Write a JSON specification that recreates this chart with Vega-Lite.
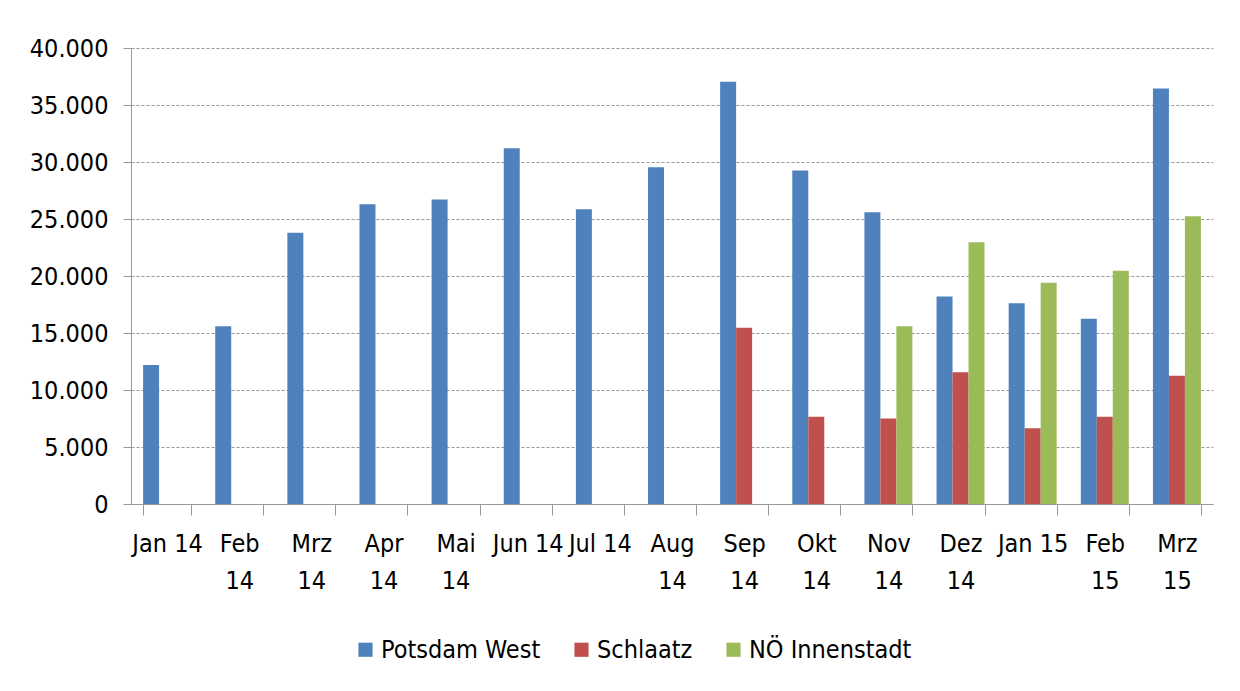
{
  "$schema": "https://vega.github.io/schema/vega-lite/v6.json",
  "width": 1082,
  "height": 456,
  "autosize": {"type": "none"},
  "padding": {"left": 131, "top": 48, "right": 27, "bottom": 187},
  "background": "white",
  "config": {"view": {"stroke": null}},
  "data": {
    "values": [
      {"monat": "Jan 14", "serie": "Potsdam West", "wert": 12200},
      {"monat": "Feb 14", "serie": "Potsdam West", "wert": 15600},
      {"monat": "Mrz 14", "serie": "Potsdam West", "wert": 23800},
      {"monat": "Apr 14", "serie": "Potsdam West", "wert": 26300},
      {"monat": "Mai 14", "serie": "Potsdam West", "wert": 26700},
      {"monat": "Jun 14", "serie": "Potsdam West", "wert": 31200},
      {"monat": "Jul 14", "serie": "Potsdam West", "wert": 25850},
      {"monat": "Aug 14", "serie": "Potsdam West", "wert": 29550},
      {"monat": "Sep 14", "serie": "Potsdam West", "wert": 37050},
      {"monat": "Sep 14", "serie": "Schlaatz", "wert": 15450},
      {"monat": "Okt 14", "serie": "Potsdam West", "wert": 29250},
      {"monat": "Okt 14", "serie": "Schlaatz", "wert": 7650},
      {"monat": "Nov 14", "serie": "Potsdam West", "wert": 25600},
      {"monat": "Nov 14", "serie": "Schlaatz", "wert": 7500},
      {"monat": "Nov 14", "serie": "NÖ Innenstadt", "wert": 15600},
      {"monat": "Dez 14", "serie": "Potsdam West", "wert": 18200},
      {"monat": "Dez 14", "serie": "Schlaatz", "wert": 11550},
      {"monat": "Dez 14", "serie": "NÖ Innenstadt", "wert": 22950},
      {"monat": "Jan 15", "serie": "Potsdam West", "wert": 17600},
      {"monat": "Jan 15", "serie": "Schlaatz", "wert": 6650},
      {"monat": "Jan 15", "serie": "NÖ Innenstadt", "wert": 19400},
      {"monat": "Feb 15", "serie": "Potsdam West", "wert": 16250},
      {"monat": "Feb 15", "serie": "Schlaatz", "wert": 7650},
      {"monat": "Feb 15", "serie": "NÖ Innenstadt", "wert": 20450},
      {"monat": "Mrz 15", "serie": "Potsdam West", "wert": 36450},
      {"monat": "Mrz 15", "serie": "Schlaatz", "wert": 11250},
      {"monat": "Mrz 15", "serie": "NÖ Innenstadt", "wert": 25250}
    ]
  },
  "mark": {"type": "bar"},
  "encoding": {
    "x": {
      "field": "monat",
      "type": "nominal",
      "sort": ["Jan 14","Feb 14","Mrz 14","Apr 14","Mai 14","Jun 14","Jul 14","Aug 14","Sep 14","Okt 14","Nov 14","Dez 14","Jan 15","Feb 15","Mrz 15"],
      "scale": {"paddingInner": 0.335, "paddingOuter": 0.1675},
      "axis": {
        "title": null,
        "labelAngle": 0,
        "tickBand": "extent",
        "tickSize": 11,
        "tickColor": "#999999",
        "domainColor": "#999999",
        "labelPadding": 16,
        "labelFont": "DejaVu Sans Condensed, Liberation Sans, sans-serif",
        "labelFontSize": 25,
        "labelColor": "#000000",
        "labelLineHeight": 37,
        "labelBaseline": "top",
        "labelOverlap": false,
        "labelExpr": "indexof(['Jan 14','Jun 14','Jul 14','Jan 15'], datum.label) >= 0 ? datum.label : split(datum.label, ' ')"
      }
    },
    "xOffset": {
      "field": "serie",
      "type": "nominal",
      "scale": {"domain": ["Potsdam West", "Schlaatz", "NÖ Innenstadt"], "paddingInner": 0, "paddingOuter": 0}
    },
    "y": {
      "field": "wert",
      "type": "quantitative",
      "scale": {"domain": [0, 40000], "nice": false},
      "axis": {
        "title": null,
        "values": [0, 5000, 10000, 15000, 20000, 25000, 30000, 35000, 40000],
        "labelExpr": "replace(format(datum.value, ','), ',', '.')",
        "grid": true,
        "gridDash": [3, 2],
        "gridColor": "#999999",
        "tickSize": 8,
        "tickColor": "#999999",
        "domainColor": "#999999",
        "labelPadding": 15,
        "labelFont": "DejaVu Sans Condensed, Liberation Sans, sans-serif",
        "labelFontSize": 25,
        "labelColor": "#000000"
      }
    },
    "color": {
      "field": "serie",
      "type": "nominal",
      "scale": {"domain": ["Potsdam West", "Schlaatz", "NÖ Innenstadt"], "range": ["#4F81BD", "#C0504D", "#9BBB59"]},
      "legend": {
        "title": null,
        "orient": "none",
        "direction": "horizontal",
        "legendX": 222,
        "legendY": 589,
        "symbolType": "square",
        "symbolSize": 200,
        "symbolStrokeWidth": 0,
        "labelFont": "DejaVu Sans Condensed, Liberation Sans, sans-serif",
        "labelFontSize": 25,
        "labelColor": "#000000",
        "labelOffset": 3,
        "labelLimit": 300,
        "columnPadding": 28
      }
    }
  }
}
